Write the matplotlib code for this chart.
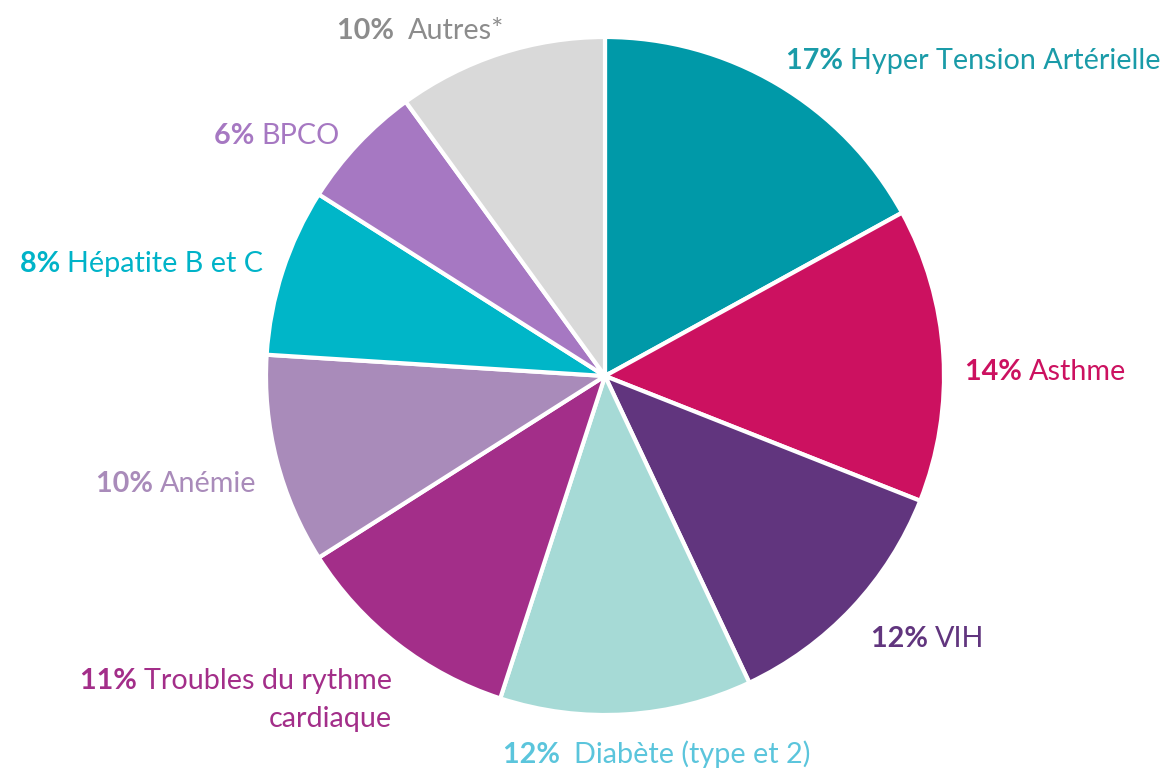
import matplotlib.pyplot as plt

plt.rcParams["font.family"] = ["Lato", "DejaVu Sans"]

names = ["Hyper Tension Artérielle", "Asthme", "VIH", "Diabète (type et 2)",
         "Troubles du rythme", "Anémie", "Hépatite B et C", "BPCO", "Autres*"]
shares = [17, 14, 12, 12, 11, 10, 8, 6, 10]
slice_colors = ["#0099A8", "#CC1160", "#61357E", "#A6DAD6", "#A32E89",
                "#A98BBA", "#00B6C8", "#A678C2", "#D9D9D9"]
text_colors = ["#1A9BA8", "#CC1160", "#61357E", "#5BC5DC", "#A32E89",
               "#A98BBA", "#00B3C8", "#A678C2", "#8C8C8C"]

W, H = 1167, 772
fig = plt.figure(figsize=(W / 100, H / 100), dpi=100)
ax = fig.add_axes([0, 0, 1, 1])

ax.pie(shares, colors=slice_colors, startangle=90, counterclock=False,
       center=(605, H - 376), radius=339,
       wedgeprops=dict(edgecolor="white", linewidth=3))
ax.set_xlim(0, W)
ax.set_ylim(0, H)
ax.set_aspect("equal")
ax.axis("off")

fs = 20.7
# label anchors (left edge, vertical centre) in pixel coordinates
spots = [(786, 61), (965, 372), (871, 639), (503, 755), None,
         (96, 484), (20, 264), (214, 136), (337, 31)]
gaps = ["", "", "", " ", "", "", "", "", " "]

for i, pos in enumerate(spots):
    if pos is None:
        continue
    x, y = pos
    t = ax.text(x, H - y, f"{shares[i]}% {gaps[i]}", fontsize=fs, fontweight="bold",
                color=text_colors[i], ha="left", va="center")
    ax.annotate(names[i], xy=(1, 0), xycoords=t, fontsize=fs,
                color=text_colors[i], ha="left", va="bottom")

# two-line, right-aligned label for the rhythm disorders
t = ax.text(392, H - 681, names[4], fontsize=fs, color=text_colors[4],
            ha="right", va="center")
ax.annotate(f"{shares[4]}% ", xy=(0, 0), xycoords=t, fontsize=fs, fontweight="bold",
            color=text_colors[4], ha="right", va="bottom")
ax.text(392, H - 719, "cardiaque", fontsize=fs, color=text_colors[4],
        ha="right", va="center")

fig.savefig("out.png", dpi=100)
